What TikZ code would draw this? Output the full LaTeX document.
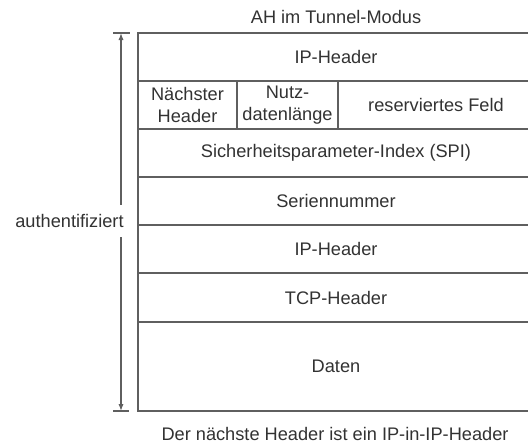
\documentclass[tikz,border=0pt]{standalone}
\usepackage{fontspec}
\setmainfont{Liberation Sans}
\usetikzlibrary{arrows.meta, positioning}
\definecolor{linegray}{RGB}{95,95,95}
\definecolor{textgray}{RGB}{50,50,50}
\tikzstyle{every node}=[font=\fontsize{9.1pt}{11pt}\selectfont, text=textgray]
\tikzstyle{field}=[draw=linegray, line width=0.8pt, rectangle, inner sep=0pt, outer sep=0pt, minimum width=198pt, minimum height=24pt, align=center]
\tikzstyle{span}=[draw=linegray, line width=0.6pt, -{Latex[length=3.5pt,width=2.6pt]}]

\begin{document}
\begin{tikzpicture}[x=0.5pt, y=-0.5pt]
  \useasboundingbox (0,0) rectangle (528,446);
  \clip (0,0) rectangle (528,446);
  \node (title) at (336,17) {AH im Tunnel-Modus};
  \node[field, anchor=north west] (outerip) at (138,33) {IP-Header};
  \node[field, minimum width=49.5pt, below right=0pt and 0pt of outerip.south west] (next) {N\"achster\\Header};
  \node[field, minimum width=50.5pt, right=0pt of next] (len) {Nutz-\\datenl\"ange};
  \node[field, minimum width=98pt, right=0pt of len] (reserved) {reserviertes Feld};
  \node[field, below right=0pt and 0pt of next.south west] (spi) {Sicherheitsparameter-Index (SPI)};
  \node[field, below=0pt of spi] (seq) {Seriennummer};
  \node[field, below=0pt of seq] (innerip) {IP-Header};
  \node[field, minimum height=24.5pt, below=0pt of innerip] (tcp) {TCP-Header};
  \node[field, minimum height=44.5pt, below=0pt of tcp] (data) {Daten};
  \node (caption) at (335,434) {Der n\"achste Header ist ein IP-in-IP-Header};
  \coordinate (atop) at (121,33);
  \coordinate (abot) at (121,411);
  \node[anchor=east, inner xsep=0pt, inner ysep=4.6pt] (auth) at (124,221) {authentifiziert};
  \draw[span] (auth.north -| atop) -- (atop);
  \draw[span] (auth.south -| atop) -- (abot);
  \draw[draw=linegray, line width=0.6pt] ([xshift=-4pt]atop) -- ([xshift=4.5pt]atop);
  \draw[draw=linegray, line width=0.6pt] ([xshift=-4pt]abot) -- ([xshift=4pt]abot);
\end{tikzpicture}
\end{document}
